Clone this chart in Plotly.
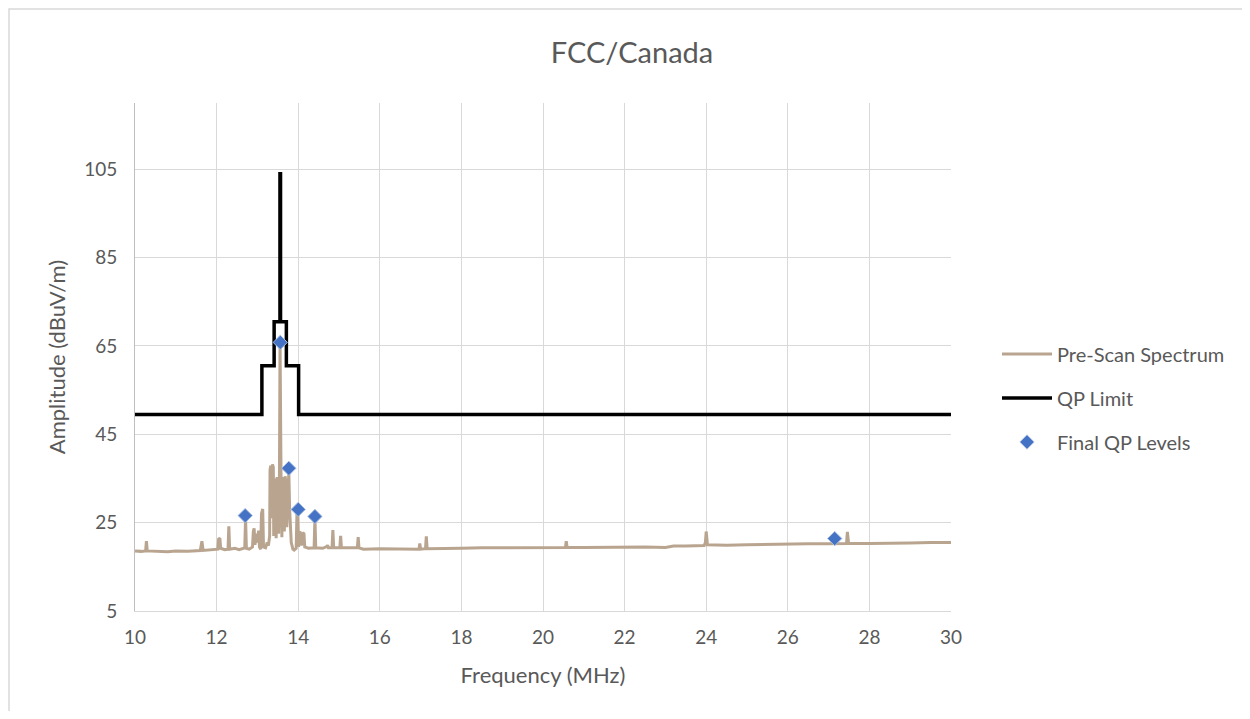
import plotly.graph_objects as go

# ---------------- data ----------------
spectrum_mhz = [
    10.00, 10.15, 10.26, 10.28, 10.30, 10.50, 10.80, 11.00, 11.30, 11.60, 11.64, 11.67,
    11.90, 12.03, 12.05, 12.08, 12.10, 12.20, 12.28, 12.30, 12.32, 12.45, 12.55, 12.69,
    12.71, 12.73, 12.80, 12.88, 12.90, 12.92, 12.94, 12.98, 13.00, 13.03, 13.05, 13.08,
    13.10, 13.13, 13.15, 13.20, 13.24, 13.27, 13.30, 13.31, 13.33, 13.35, 13.37, 13.39,
    13.40, 13.42, 13.44, 13.46, 13.48, 13.50, 13.52, 13.54, 13.555, 13.565, 13.58, 13.60,
    13.62, 13.64, 13.66, 13.68, 13.70, 13.72, 13.75, 13.77, 13.79, 13.81, 13.83, 13.87,
    13.90, 13.95, 13.97, 13.99, 14.01, 14.04, 14.06, 14.08, 14.11, 14.14, 14.16, 14.25,
    14.39, 14.41, 14.43, 14.60, 14.70, 14.72, 14.74, 14.83, 14.85, 14.87, 15.02, 15.04,
    15.06, 15.45, 15.47, 15.49, 15.60, 16.00, 16.40, 16.96, 16.98, 17.00, 17.12, 17.14,
    17.16, 17.50, 18.00, 18.50, 19.00, 20.00, 20.55, 20.57, 20.59, 21.00, 22.00, 22.50,
    23.00, 23.20, 23.50, 23.95, 23.98, 24.00, 24.03, 24.50, 25.00, 25.50, 26.00, 26.50,
    27.00, 27.44, 27.46, 27.49, 28.00, 28.50, 29.00, 29.50, 30.00,
]
spectrum_dbuv = [
    18.6, 18.5, 18.6, 20.8, 18.6, 18.5, 18.4, 18.6, 18.5, 18.7, 20.8, 18.7,
    18.8, 19.0, 21.3, 21.5, 19.2, 18.9, 19.0, 24.2, 19.0, 19.2, 18.9, 19.3,
    26.0, 19.2, 19.0, 19.5, 23.0, 23.7, 20.0, 22.5, 20.5, 23.2, 19.5, 19.0,
    27.0, 28.1, 19.5, 19.3, 20.5, 19.8, 22.0, 37.0, 37.9, 26.0, 38.2, 37.5,
    22.0, 35.0, 34.0, 21.5, 35.3, 34.5, 22.5, 35.0, 66.4, 35.0, 34.5, 21.7,
    35.3, 34.8, 23.0, 35.5, 34.0, 24.0, 35.0, 36.5, 28.0, 22.0, 20.5, 19.0,
    18.8, 19.2, 27.5, 27.8, 19.5, 23.0, 22.5, 19.8, 22.5, 22.7, 19.5, 19.2,
    19.3, 26.2, 19.3, 19.2, 19.6, 19.9, 19.3, 19.3, 23.3, 19.3, 19.3, 22.0,
    19.3, 19.3, 21.7, 19.3, 19.0, 19.1, 19.0, 19.0, 20.3, 19.0, 19.1, 21.9,
    19.1, 19.1, 19.2, 19.3, 19.3, 19.3, 19.4, 20.8, 19.4, 19.4, 19.5, 19.5,
    19.4, 19.7, 19.7, 19.8, 20.5, 23.0, 20.0, 19.9, 20.0, 20.1, 20.1, 20.2,
    20.2, 20.3, 22.9, 20.3, 20.3, 20.3, 20.4, 20.5, 20.5,
]

limit_mhz = [10.0, 13.11, 13.11, 13.41, 13.41, 13.553, 13.553, 13.567, 13.567,
             13.71, 13.71, 14.01, 14.01, 30.0]
limit_dbuv = [49.5, 49.5, 60.5, 60.5, 70.5, 70.5, 104.0, 104.0, 70.5,
              70.5, 60.5, 60.5, 49.5, 49.5]

final_qp_mhz = [12.70, 13.56, 13.77, 14.00, 14.41, 27.15]
final_qp_dbuv = [26.6, 65.8, 37.3, 28.0, 26.4, 21.4]

x_ticks = [10, 12, 14, 16, 18, 20, 22, 24, 26, 28, 30]
y_ticks = [5, 25, 45, 65, 85, 105]

# ---------------- figure ----------------
FONT = "Lato, Open Sans, sans-serif"
TXT = "#595959"
GRID = "#d9d9d9"

fig = go.Figure()
fig.add_trace(go.Scatter(
    x=spectrum_mhz, y=spectrum_dbuv, mode="lines", name="Pre-Scan Spectrum",
    line=dict(color="#b9a58f", width=3), legendgroup="a"))
fig.add_trace(go.Scatter(
    x=limit_mhz, y=limit_dbuv, mode="lines", name="QP Limit",
    line=dict(color="#000000", width=3.5), legendgroup="b"))
fig.add_trace(go.Scatter(
    x=final_qp_mhz, y=final_qp_dbuv, mode="markers", name="Final QP Levels",
    marker=dict(symbol="diamond", size=11, color="#4472c4",
                line=dict(color="#a9bde0", width=1)), legendgroup="c"))

# page has an 8px body margin: figure origin is at page (8, 8)
OFF = 8
W, H = 1234, 703
L, T = 135 - OFF, 103 - OFF
pw, ph = 816, 508
R, B = W - L - pw, H - T - ph


def px_x(page_x):
    return (page_x - OFF - L) / pw


def px_y(page_y):
    return (T + ph - (page_y - OFF)) / ph


fig.update_layout(
    width=W, height=H,
    margin=dict(l=L, r=R, t=T, b=B),
    paper_bgcolor="white", plot_bgcolor="white",
    font=dict(family=FONT, color=TXT, size=19),
    title=dict(text="FCC/Canada", x=px_x(632), xref="paper", xanchor="center",
               y=1 - (53 - OFF) / H, yanchor="middle",
               font=dict(size=29, color=TXT, family=FONT)),
    showlegend=True,
    legend=dict(x=px_x(997), xanchor="left", y=px_y(398), yanchor="middle",
                font=dict(size=20, color=TXT, family=FONT), tracegroupgap=15,
                itemwidth=50, bgcolor="rgba(0,0,0,0)"),
    xaxis=dict(range=[10, 30], tickvals=x_ticks, ticktext=[str(v) for v in x_ticks],
               showgrid=True, gridcolor=GRID, gridwidth=1,
               showline=True, linecolor=GRID, linewidth=1, zeroline=False,
               ticks="", ticklabelstandoff=9,
               tickfont=dict(size=19, color=TXT),
               title=dict(text="Frequency (MHz)", font=dict(size=22, color=TXT), standoff=20)),
    yaxis=dict(range=[5, 120], tickvals=y_ticks, ticktext=[str(v) for v in y_ticks],
               showgrid=True, gridcolor=GRID, gridwidth=1,
               showline=True, linecolor="#bfbfbf", linewidth=1, zeroline=False,
               ticks="", ticklabelstandoff=13,
               tickfont=dict(size=19, color=TXT),
               title=dict(text="Amplitude (dBuV/m)", font=dict(size=22, color=TXT), standoff=12)),
    shapes=[dict(type="rect", xref="paper", yref="paper", layer="below",
                 x0=px_x(9), x1=px_x(1300),
                 y0=px_y(760), y1=px_y(9),
                 line=dict(color="#d9d9d9", width=1.5), fillcolor="rgba(0,0,0,0)")],
)

fig.write_html("out.html")
